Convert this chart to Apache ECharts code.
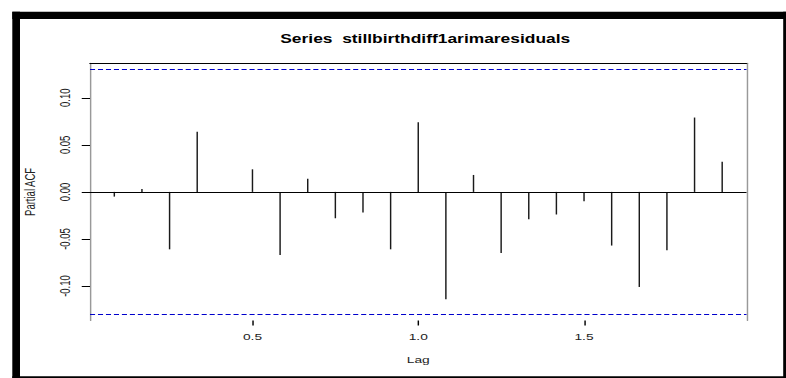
<!DOCTYPE html>
<html>
<head>
<meta charset="utf-8">
<title>Series stillbirthdiff1arimaresiduals</title>
<script src="https://cdn.jsdelivr.net/npm/echarts@6/dist/echarts.min.js"></script>
<style>
  html, body { margin: 0; padding: 0; background: #fff; overflow: hidden; }
  body { width: 786px; height: 378px; position: relative; }
  #chart { position: absolute; left: 0; top: 0; transform-origin: 0 0; }
</style>
</head>
<body>
<div id="chart"></div>
<script>
// Partial autocorrelation of the differenced ARIMA residuals, monthly data
const seriesName = 'stillbirthdiff1arimaresiduals';
const frequency = 12;
const lagMonths = [1, 2, 3, 4, 5, 6, 7, 8, 9, 10, 11, 12, 13, 14, 15, 16, 17, 18, 19, 20, 21, 22, 23];
const pacfValues = [-0.005, 0.003, -0.061, 0.064, 0.000, 0.024, -0.067, 0.014, -0.028, -0.022, -0.061, 0.074,
                    -0.114, 0.018, -0.065, -0.029, -0.024, -0.010, -0.057, -0.101, -0.062, 0.079, 0.032];
const ciBound = 0.1265;                       // 95% white-noise band
const yTicks = [-0.10, -0.05, 0.00, 0.05, 0.10];
const xTicks = [0.5, 1.0, 1.5];

// the whole device is drawn narrow and widened horizontally
const S = 1.45;
const W = 786, H = 378;
const X = v => v / S;

const el = document.getElementById('chart');
el.style.width = (W / S) + 'px';
el.style.height = H + 'px';
el.style.transform = 'scaleX(' + S + ')';

// R-style axis extents: data range widened by 4% on each side
const lagYears = lagMonths.map(m => m / frequency);
const xLo = Math.min(...lagYears), xHi = Math.max(...lagYears);
const xPad = 0.04 * (xHi - xLo);
const yLo = Math.min(-ciBound, ...pacfValues), yHi = Math.max(ciBound, ...pacfValues);
const yPad = 0.04 * (yHi - yLo);

const font = 'Liberation Sans, Arial, sans-serif';
const txt = { fontFamily: font, fontSize: 9.5, color: '#222' };

const chart = echarts.init(el, null, { renderer: 'svg', width: W / S, height: H });

chart.setOption({
  animation: false,
  backgroundColor: '#fff',
  title: {
    text: 'Series\u00a0 ' + seriesName,
    left: X(418),
    top: 28,
    textAlign: 'center',
    textStyle: { fontFamily: font, fontWeight: 'bold', fontSize: 12, color: '#000' }
  },
  grid: { left: X(90), right: X(W - 746.5), top: 63.3, bottom: H - 320.5, containLabel: false },
  xAxis: [{
    type: 'value', position: 'bottom',
    min: xLo - xPad, max: xHi + xPad,
    axisLine: { show: false, onZero: false },
    splitLine: { show: false },
    axisTick: { show: true, customValues: xTicks, length: 5, lineStyle: { color: '#000', width: 1 } },
    axisLabel: { customValues: xTicks, margin: 11, formatter: v => v.toFixed(1), ...txt },
    name: 'Lag', nameLocation: 'middle', nameGap: 34, nameTextStyle: txt
  }, {
    type: 'value', position: 'top',
    min: xLo - xPad, max: xHi + xPad,
    axisLine: { show: true, onZero: false, lineStyle: { color: '#000', width: 1 } },
    axisTick: { show: false }, axisLabel: { show: false }, splitLine: { show: false }
  }],
  yAxis: [{
    type: 'value', position: 'left',
    min: yLo - yPad, max: yHi + yPad,
    axisLine: { show: true, onZero: false, lineStyle: { color: '#999', width: 1 } },
    splitLine: { show: false },
    axisTick: { show: true, customValues: yTicks, length: 5.7, lineStyle: { color: '#000', width: 1 } },
    axisLabel: { customValues: yTicks, rotate: 90, margin: 12, formatter: v => v.toFixed(2), ...txt },
    name: 'Partial ACF', nameLocation: 'middle', nameRotate: 90, nameGap: 36, nameTextStyle: txt
  }, {
    type: 'value', position: 'right',
    min: yLo - yPad, max: yHi + yPad,
    axisLine: { show: true, onZero: false, lineStyle: { color: '#999', width: 1 } },
    axisTick: { show: false }, axisLabel: { show: false }, splitLine: { show: false }
  }],
  series: [{
    type: 'bar',
    xAxisIndex: 0, yAxisIndex: 0,
    barWidth: 1,
    itemStyle: { color: '#1a1a1a' },
    data: lagYears.map((x, i) => [x, pacfValues[i]]),
    markLine: {
      silent: true,
      symbol: ['none', 'none'],
      label: { show: false },
      data: [
        { yAxis: 0, lineStyle: { color: '#000', width: 1, type: 'solid' } },
        { yAxis: ciBound, lineStyle: { color: '#0000cc', width: 1, type: [3.5, 2] } },
        { yAxis: -ciBound, lineStyle: { color: '#0000cc', width: 1, type: [3.5, 2] } }
      ]
    }
  }],
  graphic: [
    // outer device frame
    { type: 'rect', shape: { x: X(12.3), y: 11.7, width: X(W - 12.3), height: 7.3 }, style: { fill: '#000' } },
    { type: 'rect', shape: { x: X(12.3), y: 11.7, width: X(7.7), height: H - 11.7 }, style: { fill: '#000' } },
    { type: 'rect', shape: { x: X(783.2), y: 11.7, width: X(W - 783.2), height: H - 11.7 }, style: { fill: '#000' } },
    { type: 'rect', shape: { x: X(12.3), y: 376.3, width: X(W - 12.3), height: H - 376.3 }, style: { fill: '#000' } }
  ]
});
</script>
</body>
</html>
